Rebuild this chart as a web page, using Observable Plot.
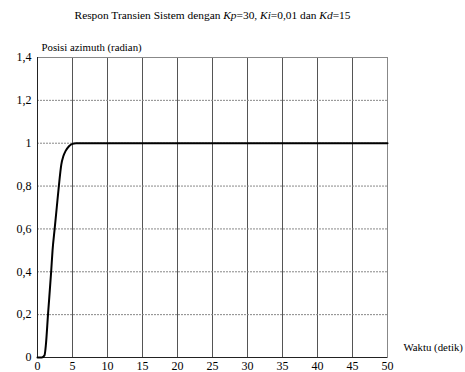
<!DOCTYPE html>
<html>
<head>
<meta charset="utf-8">
<script src="https://cdn.jsdelivr.net/npm/d3@7"></script>
<script src="https://cdn.jsdelivr.net/npm/@observablehq/plot@0.6"></script>
<style>
  body { margin: 0; background: #fff; }
  #wrap { position: relative; width: 465px; height: 372px; font-family: "Liberation Serif", serif; }
  #title { position: absolute; left: 0; top: 6px; width: 425px; text-align: center; font-size: 11.4px; line-height: 18px; color: #000; white-space: nowrap; }
  #chart { position: absolute; left: 0; top: 30px; }
  #chart svg, #chart svg text { font-family: "Liberation Serif", serif !important; }
</style>
</head>
<body>
<div id="wrap">
  <div id="title">Respon Transien Sistem dengan <i>Kp</i>=30, <i>Ki</i>=0,01 dan <i>Kd</i>=15</div>
  <div id="chart"></div>
</div>
<script>
// Data
const time = [0, 0.6, 1.0, 1.2, 1.5, 1.95, 2.15, 2.45, 2.75, 3.05, 3.4, 3.7, 4.0, 4.5, 5.0, 5.5, 6, 10, 20, 30, 40, 50];
const position = [0, 0, 0.01, 0.06, 0.2, 0.4, 0.5, 0.6, 0.7, 0.8, 0.9, 0.94, 0.963, 0.986, 0.997, 1.0, 1.0, 1.0, 1.0, 1.0, 1.0, 1.0];
const xTicks = [0, 5, 10, 15, 20, 25, 30, 35, 40, 45, 50];
const yTicks = [0, 0.2, 0.4, 0.6, 0.8, 1, 1.2, 1.4];
const yTickLabels = ["0", "0,2", "0,4", "0,6", "0,8", "1", "1,2", "1,4"];
const xLabel = "Waktu (detik)";
const yLabel = "Posisi azimuth (radian)";

const data = time.map((t, i) => ({t, v: position[i]}));
const vGrid = xTicks.filter(d => d > 0 && d < 50);
const hGrid = yTicks.filter(d => d > 0 && d < 1.4);

const chart = Plot.plot({
  width: 465,
  height: 342,
  marginLeft: 37,
  marginRight: 78,
  marginTop: 27,
  marginBottom: 15,
  style: {fontSize: "12px", background: "white", color: "#000"},
  x: {domain: [0, 50], ticks: xTicks, tickSize: 0, tickPadding: 4, label: null},
  y: {domain: [0, 1.4], ticks: yTicks, tickSize: 0, tickPadding: 6, label: null,
      tickFormat: d => yTickLabels[yTicks.findIndex(v => Math.abs(v - d) < 1e-9)]},
  marks: [
    Plot.ruleX(vGrid, {stroke: "#555", strokeWidth: 1}),
    Plot.ruleY(hGrid, {stroke: "#888", strokeWidth: 1, strokeDasharray: "2,1"}),
    Plot.frame({stroke: "#888"}),
    Plot.ruleX([0], {stroke: "#222"}),
    Plot.ruleY([0], {stroke: "#222"}),
    Plot.line(data, {x: "t", y: "v", stroke: "#000", strokeWidth: 2, curve: "monotone-x"}),
    Plot.text([yLabel], {frameAnchor: "top-left", text: d => d, dx: 4, dy: -14, textAnchor: "start", fontSize: 10.8}),
    Plot.text([xLabel], {frameAnchor: "bottom-right", text: d => d, dx: 16, dy: -7, textAnchor: "start", fontSize: 10.8})
  ]
});
document.getElementById("chart").appendChild(chart);
</script>
</body>
</html>
